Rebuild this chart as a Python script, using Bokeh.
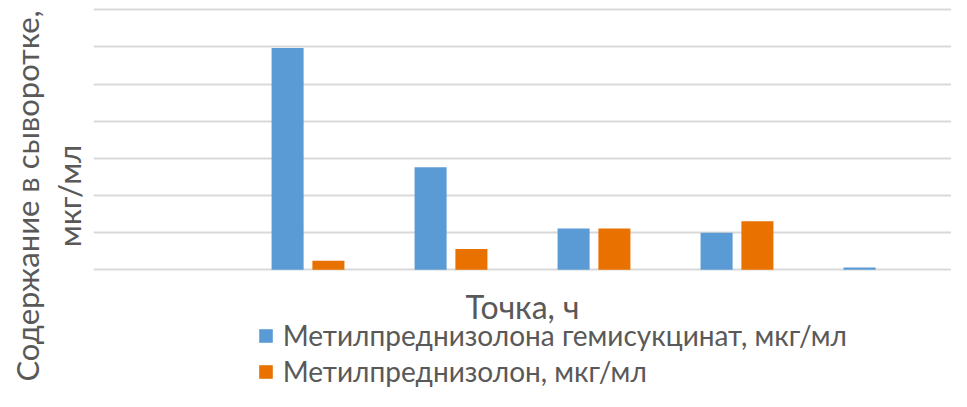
from bokeh.plotting import figure
from bokeh.models import Range1d, FactorRange, FixedTicker, Label, Legend, LegendItem, ColumnDataSource
from bokeh.transform import dodge
from bokeh.embed import file_html
from bokeh.resources import INLINE

categories = ["1", "2", "3", "4", "5", "6"]
hemisuccinate = [0.0, 59.7, 27.6, 11.1, 10.0, 0.6]
methylpred = [0.0, 2.4, 5.6, 11.1, 13.1, 0.0]
series_names = ["Метилпреднизолона гемисукцинат, мкг/мл", "Метилпреднизолон, мкг/мл"]
x_title = "Точка, ч"
y_title = "Содержание в сыворотке,\nмкг/мл"
y_ticks = [0, 10, 20, 30, 40, 50, 60, 70]

FONT = "Lato"
TXT = "#595959"

src = ColumnDataSource(dict(cat=categories, a=hemisuccinate, b=methylpred))

p = figure(width=951, height=391, output_backend="svg", toolbar_location=None,
           x_range=FactorRange(*categories, range_padding=0),
           y_range=Range1d(-32.77, 72.50),
           min_border_left=93, min_border_right=0, min_border_top=0, min_border_bottom=0)
p.outline_line_color = None
p.background_fill_color = "white"
p.border_fill_color = "white"

r1 = p.vbar(x=dodge("cat", -0.1427, range=p.x_range), top="a", width=0.224, source=src,
            fill_color="#5B9BD5", line_color=None)
r2 = p.vbar(x=dodge("cat", 0.1427, range=p.x_range), top="b", width=0.224, source=src,
            fill_color="#E97100", line_color=None)

p.xgrid.visible = False
p.ygrid.grid_line_color = "#D9D9D9"
p.ygrid.grid_line_width = 2
p.yaxis.ticker = FixedTicker(ticks=y_ticks)
p.xaxis.visible = False
ax = p.yaxis[0]
ax.axis_line_color = None
ax.major_tick_line_color = None
ax.minor_tick_line_color = None
ax.major_tick_out = 0
ax.major_tick_in = 0
ax.major_label_standoff = 0
ax.major_label_text_font_size = "0px"
ax.major_label_text_color = None
ax.axis_label = y_title
ax.axis_label_text_font = FONT
ax.axis_label_text_font_size = "31px"
ax.axis_label_text_font_style = "normal"
ax.axis_label_text_line_height = 1.08
ax.axis_label_text_color = TXT
ax.axis_label_standoff = 6

p.add_layout(Label(x=429, y=85, x_units="screen", y_units="screen", text=x_title,
                   text_font=FONT, text_font_size="32px", text_color=TXT,
                   text_align="center", text_baseline="alphabetic"))

legend = Legend(items=[LegendItem(label=series_names[0], renderers=[r1]),
                       LegendItem(label=series_names[1], renderers=[r2])],
                location=(163.7, 3), orientation="vertical",
                glyph_width=17, glyph_height=17, label_standoff=9,
                label_height=34, spacing=2, padding=0, margin=0,
                border_line_color=None, background_fill_alpha=0,
                label_text_font=FONT, label_text_font_size="28px", label_text_color=TXT)
p.add_layout(legend)

open("out.html", "w").write(file_html(p, INLINE))
